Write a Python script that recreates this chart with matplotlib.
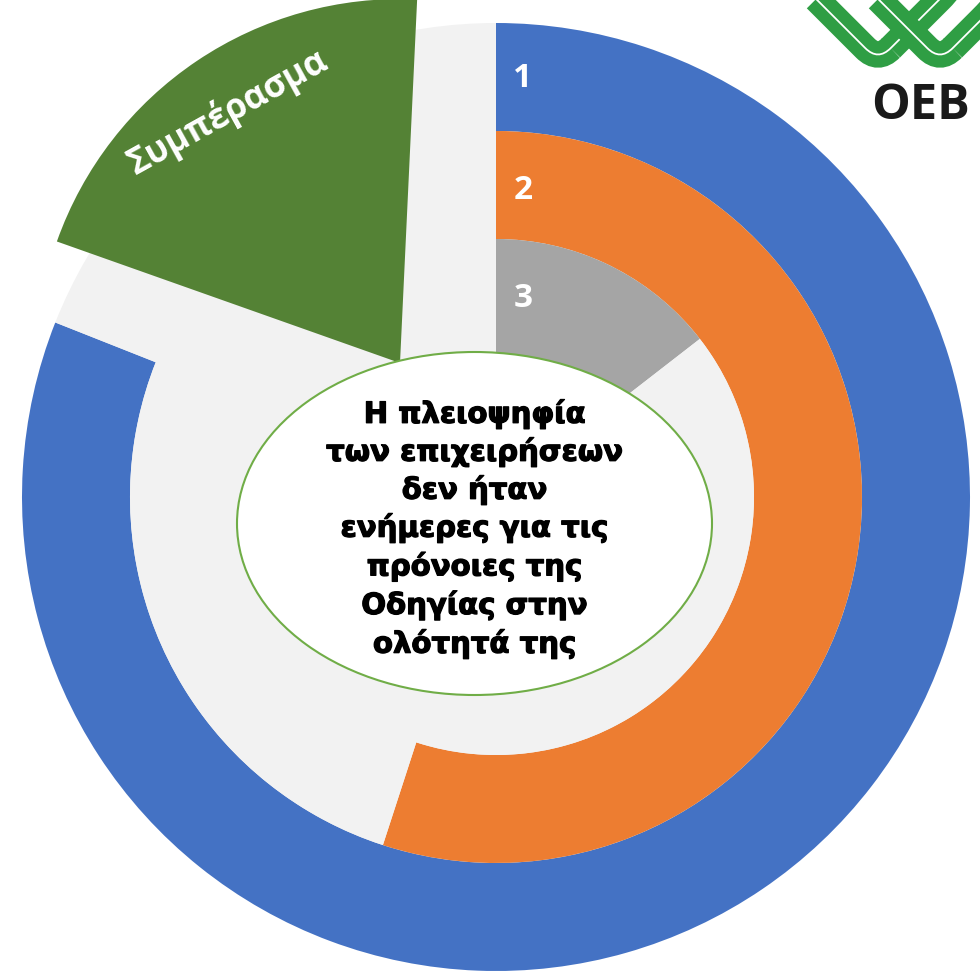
"""
Nested donut chart with conclusion callout (OEB survey).
"""

import matplotlib.pyplot as plt
import matplotlib.patheffects as pe
from matplotlib.patches import Wedge, Ellipse, FancyBboxPatch, Circle
from matplotlib.transforms import Affine2D

# ring values in percent (outer -> inner)
ring_labels = ["1", "2", "3"]
ring_values = [81, 55, 14.5]
ring_colors = ["#4472c4", "#ed7d31", "#a5a5a5"]
rest_color = "#f2f2f2"

conclusion_title = "Συμπέρασμα"
conclusion_text = (
    "Η πλειοψηφία\nτων επιχειρήσεων\nδεν ήταν\nενήμερες για τις\n"
    "πρόνοιες της\nΟδηγίας στην\nολότητά της"
)
logo_text = "OEB"

W, H = 980, 971
CX, CY = 496, H - 497
R_OUT = 474
RING_W = [108, 108, 125]

fig = plt.figure(figsize=(W / 100, H / 100), dpi=100)
ax = fig.add_axes([0, 0, 1, 1])

# light grey disc behind the rings (hides seams between wedges)
ax.add_patch(Circle((CX, CY), R_OUT - 1, color=rest_color, linewidth=0, zorder=0))

radius = R_OUT
for val, col, w in zip(ring_values, ring_colors, RING_W):
    ax.pie(
        [val, 100 - val],
        colors=[col, rest_color],
        startangle=90,
        counterclock=False,
        radius=radius,
        center=(CX, CY),
        wedgeprops=dict(width=w, linewidth=0),
    )
    radius -= w

# ring number labels
label_y = [H - 78, H - 190, H - 298]
for lab, y in zip(ring_labels, label_y):
    ax.text(523, y, lab, color="white", fontsize=24, fontweight="bold",
            family="Open Sans", ha="center", va="center", zorder=6)

# exploded "conclusion" slice
ax.add_patch(Wedge((400, H - 363), 364, 87.3, 160.5, color="#548235",
                   linewidth=0, zorder=3))
ax.text(228, H - 112, conclusion_title, color="white", fontsize=25,
        fontweight="bold", family="Open Sans", rotation=29,
        ha="center", va="center", rotation_mode="anchor", zorder=6)

# centre ellipse
ax.add_patch(Ellipse((474.5, H - 523.5), 475, 343, facecolor="white",
                     edgecolor="#70ad47", linewidth=1.5, zorder=4))
ax.text(474.5, H - 529, conclusion_text, color="black", fontsize=21,
        fontweight="bold", family="DejaVu Sans", ha="center", va="center",
        linespacing=1.39, zorder=6,
        path_effects=[pe.withStroke(linewidth=0.9, foreground="black")])

# logo
green = "#2f9e44"
for lx in [878, 940]:
    for lw, col in [(19, green), (1.3, "white")]:
        box = FancyBboxPatch((lx - 60, H + 24 - 60), 120, 120,
                             boxstyle="round,pad=0,rounding_size=18",
                             facecolor="none", edgecolor=col, linewidth=lw,
                             transform=Affine2D().rotate_deg_around(lx, H + 24, 45)
                             + ax.transData, zorder=5)
        ax.add_patch(box)
ax.text(921, H - 106, logo_text, color="#1a1a1a", fontsize=35,
        fontweight="bold", family="Open Sans", ha="center", va="center",
        zorder=6)

ax.set_xlim(0, W)
ax.set_ylim(0, H)
ax.set_aspect("equal")
ax.axis("off")

fig.savefig("out.png", dpi=100)
